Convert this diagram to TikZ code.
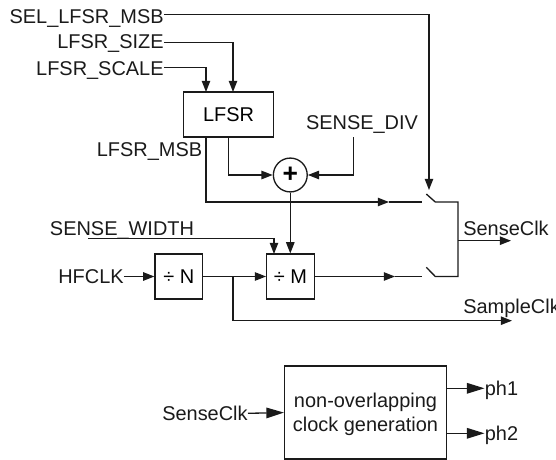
\documentclass[tikz,border=0pt]{standalone}
\usepackage{fontspec}
\setmainfont{Liberation Sans}
\usepackage{xcolor}
\usetikzlibrary{calc,arrows.meta,positioning}
\definecolor{linec}{HTML}{1A1A1A}
\tikzset{
  wr/.style={line width=0.75pt,linec},
  ar/.style={-{Triangle[length=6.4pt,width=4.8pt]},line width=0.75pt,linec},
  arb/.style={-{Triangle[length=10pt,width=6pt]},line width=0.75pt,linec},
  blk/.style={rectangle,draw=linec,line width=0.75pt,inner sep=0pt,font=\fontsize{11.35}{12.8}\selectfont,align=center},
  lbl/.style={inner sep=0pt,text height=8pt,text depth=0pt,font=\fontsize{11.35}{12.8}\selectfont,text=linec}
}
\begin{document}
\begin{tikzpicture}[x=0.02cm,y=-0.02cm]
\useasboundingbox (0,0) rectangle (556,460);
% inputs
\node[lbl,anchor=east,text height=10.8pt] (selmsb) at (164,14.5) {SEL\_LFSR\_MSB};
\node[lbl,anchor=east,text height=6.8pt] (lsize) at (164,42.5) {LFSR\_SIZE};
\node[lbl,anchor=east,text height=8.8pt] (lscale) at (164,67.3) {LFSR\_SCALE};
\node[lbl,anchor=east] at (202.5,149) (lmsb) {LFSR\_MSB};
\node[lbl] (sdiv) at (362,122) {SENSE\_DIV};
\node[lbl] (swidth) at (122,228) {SENSE\_WIDTH};
\node[lbl,anchor=east] (hf) at (124,276.5) {HFCLK};
% blocks
\node[blk,minimum width=90pt*0.567,minimum height=45pt*0.567] (lfsr) at (228.5,114.5) {LFSR};
\node[circle,draw=linec,line width=0.75pt,minimum size=34pt*0.567,inner sep=0pt,font=\fontsize{15}{16}\selectfont\bfseries] (sum) at (290.3,175) {+};
\node[blk,minimum width=47.7pt*0.567,minimum height=45pt*0.567] (divn) at (178.8,276.5) {÷ N};
\node[blk,minimum width=47.7pt*0.567,minimum height=45pt*0.567] (divm) at (290.5,276.5) {÷ M};
\node[blk,minimum width=162.4pt*0.567,minimum height=93.3pt*0.567] (nov) at (365.5,412.6) {};
\node[lbl,align=center,text height=,text depth=] (novtxt) at (365.5,414.5) {non-overlapping\\[1.2pt]clock generation};
% outputs
\node[lbl,anchor=west] (sclk) at (463,228) {SenseClk};
\node[lbl,anchor=west] (smp) at (463,306) {SampleClk};
\node[lbl,anchor=east] (sclkin) at (248,413.3) {SenseClk};
\node[lbl,anchor=west] (ph1) at (484.5,388.3) {ph1};
\node[lbl,anchor=west] (ph2) at (484.5,433.3) {ph2};
% switch points
\coordinate (swa) at (422,202);
\coordinate (swb) at (422,276.5);
\coordinate (swat) at (435.3,202);
\coordinate (swbt) at (435.3,276.5);
\coordinate (join) at (458,240.7);
\coordinate (senseout) at (511,240.7);
\coordinate (smpout) at (512,320.7);
\coordinate (swstart) at (88,238.3);
\coordinate (tap) at (233,276.5);
\coordinate (ctl) at (429,190);
% wires
\draw[ar] (selmsb.east) -| (ctl);
\draw[ar] (lsize.east) -| (233,92);
\draw[ar] (lscale.east) -| (206,92);
\draw[ar] (228.5,137) |- (sum.west);
\draw[ar] (353.3,137) |- (sum.east);
\draw[ar] (sum.south) -- (divm.north -| sum.south);
\draw[ar] (swstart) -| (274,254);
\draw[ar] (hf.east) -- (divn.west);
\draw[ar] (divn.east) -- (divm.west);
\draw[ar] (tap) |- (smpout);
\draw[ar] (206,137) |- (389,202);
\draw[wr] (389,202) -- (swa);
\draw[ar] (divm.east) -- (395,276.5);
\draw[wr] (395,276.5) -- (swb);
\draw[wr] (426.3,194) -- (swat) -- (swat -| join) -- (swbt -| join) -- (swbt) -- (426.3,267.3);
\draw[ar] (join) -- (senseout);
\draw[arb] (sclkin.east) -- (nov.west);
\draw[arb] (nov.east |- ph1) -- (ph1.west);
\draw[arb] (nov.east |- ph2) -- (ph2.west);
\end{tikzpicture}
\end{document}
